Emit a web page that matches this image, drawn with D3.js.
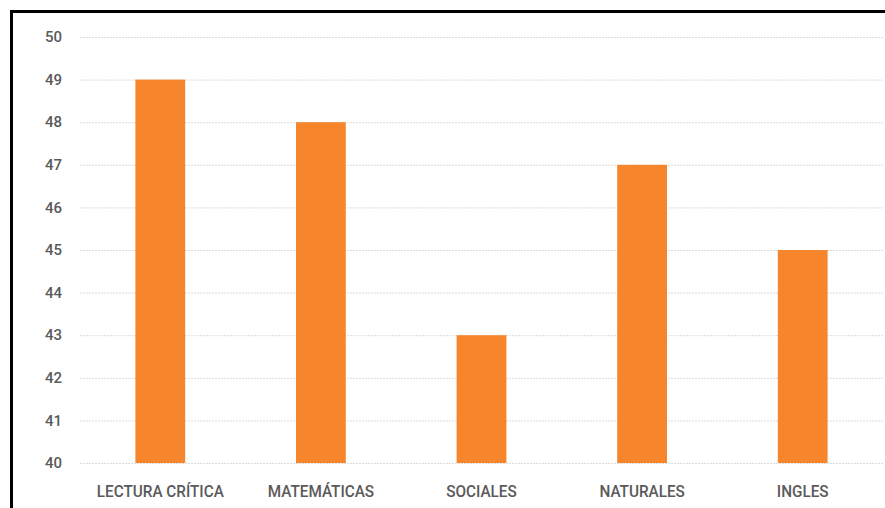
<!doctype html>
<html>
  <head>
    <meta charset="utf-8">
    <script src="https://d3js.org/d3.v7.min.js" charset="utf-8"></script>
    <style>
      body { margin: 0; background: #fff; }
      text { font-family: "Roboto", "Liberation Sans", sans-serif; fill: #5a5a5a; }
    </style>
  </head>
  <body>
    <script>

// chart data
var categories = ["LECTURA CRÍTICA", "MATEMÁTICAS", "SOCIALES", "NATURALES", "INGLES"];
var scores = [49, 48, 43, 47, 45];
var yTicks = [40, 41, 42, 43, 44, 45, 46, 47, 48, 49, 50];

var width = 885, height = 508;

var svg = d3.select("body")
  .append("svg")
    .attr("width", width)
    .attr("height", height);

// black frame, open at right and bottom
svg.append("path")
  .attr("d", "M11.5,508 L11.5,11.5 L885,11.5")
  .attr("fill", "none")
  .attr("stroke", "#000")
  .attr("stroke-width", 3);

var x = d3.scaleBand()
  .domain(categories)
  .range([80, 883])
  .paddingInner(0.69)
  .paddingOuter(0.345);

var y = d3.scaleLinear()
  .domain([40, 50])
  .range([463, 37]);

// gridlines
svg.append("g")
  .selectAll("line")
  .data(yTicks)
  .enter()
  .append("line")
    .attr("x1", 80)
    .attr("x2", 883)
    .attr("y1", function(d) { return y(d) + 0.5; })
    .attr("y2", function(d) { return y(d) + 0.5; })
    .attr("stroke", "#dcdcdc")
    .attr("stroke-width", 1)
    .attr("stroke-dasharray", "2,1");

// bars
svg.append("g")
  .selectAll("rect")
  .data(scores)
  .enter()
  .append("rect")
    .attr("x", function(d, i) { return x(categories[i]); })
    .attr("y", function(d) { return y(d); })
    .attr("width", x.bandwidth())
    .attr("height", function(d) { return y(40) - y(d); })
    .attr("fill", "#f7852c");

// y axis labels
svg.append("g")
  .selectAll("text")
  .data(yTicks)
  .enter()
  .append("text")
    .attr("x", 62)
    .attr("y", function(d) { return y(d); })
    .attr("dy", "0.35em")
    .attr("text-anchor", "end")
    .attr("font-size", 15)
    .attr("font-weight", 500)
    .text(function(d) { return d; });

// category labels, squeezed a little to look like the condensed original
svg.append("g")
  .selectAll("text")
  .data(categories)
  .enter()
  .append("text")
    .attr("transform", function(d) {
      return "translate(" + (x(d) + x.bandwidth() / 2) + ",491) scale(0.9,1)";
    })
    .attr("dy", "0.35em")
    .attr("text-anchor", "middle")
    .attr("font-size", 17)
    .attr("font-weight", 500)
    .text(function(d) { return d; });

    </script>
  </body>
</html>
